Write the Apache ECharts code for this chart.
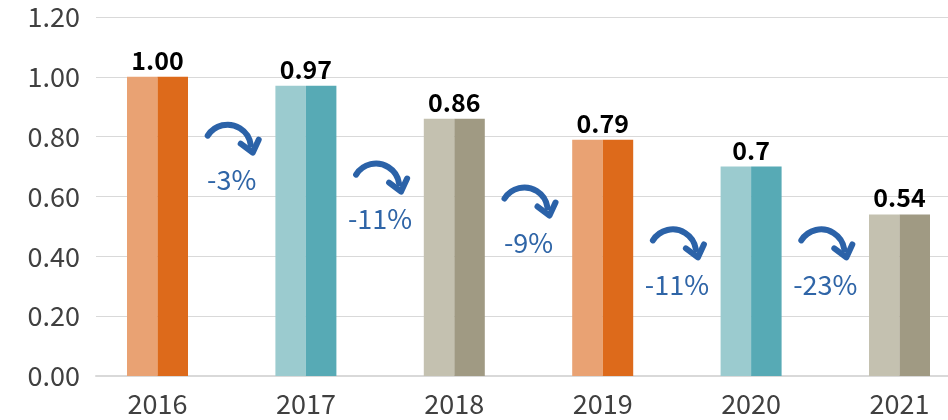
<!DOCTYPE html>
<html>
<head>
<meta charset="utf-8">
<script src="https://cdn.jsdelivr.net/npm/echarts@6/dist/echarts.min.js"></script>
<style>html,body{margin:0;padding:0;background:#fff}#c{width:948px;height:420px}</style>
</head>
<body>
<div id="c"></div>
<script>
var categories = ['2016', '2017', '2018', '2019', '2020', '2021'];
var values = [1.00, 0.97, 0.86, 0.79, 0.70, 0.54];
var valueLabels = ['1.00', '0.97', '0.86', '0.79', '0.7', '0.54'];
var changeLabels = ['-3%', '-11%', '-9%', '-11%', '-23%'];
var arrowLevels = [0.84, 0.71, 0.63, 0.49, 0.49];
var lightColors = ['#E9A273', '#9BCBCF', '#C4C1B0', '#E9A273', '#9BCBCF', '#C4C1B0'];
var darkColors = ['#DD6A1B', '#57AAB5', '#A09A83', '#DD6A1B', '#57AAB5', '#A09A83'];
var yTicks = [0, 0.2, 0.4, 0.6, 0.8, 1.0, 1.2];

var FONT = '"Noto Sans CJK SC", "Noto Sans", sans-serif';
var chart = echarts.init(document.getElementById('c'));

var lightData = values.map(function (v, i) { return { value: v, itemStyle: { color: lightColors[i] } }; });
var darkData = values.map(function (v, i) { return { value: v, itemStyle: { color: darkColors[i] } }; });
var arrowData = arrowLevels.map(function (v, i) { return [i, v, changeLabels[i]]; });

var arrowColor = '#2B62A8';

chart.setOption({
  animation: false,
  grid: [
    { left: 83.3, width: 890.4, top: 17, bottom: 44, outerBoundsMode: 'none', containLabel: false },
    { left: 96, right: 0, top: 17, bottom: 44, outerBoundsMode: 'none', containLabel: false }
  ],
  xAxis: [
    {
      type: 'category', gridIndex: 0, data: categories,
      axisLine: { show: false }, axisTick: { show: false },
      axisLabel: { color: '#404040', fontSize: 27, fontFamily: FONT, margin: 14 }
    },
    {
      type: 'value', gridIndex: 1, min: 0, max: 1,
      axisLine: { show: true, lineStyle: { color: '#D9D9D9', width: 2 } },
      axisTick: { show: false }, axisLabel: { show: false }, splitLine: { show: false }
    }
  ],
  yAxis: [
    {
      type: 'value', gridIndex: 0, min: yTicks[0], max: yTicks[yTicks.length - 1], interval: 0.2,
      show: false, splitLine: { show: false }
    },
    {
      type: 'value', gridIndex: 1, min: yTicks[0], max: yTicks[yTicks.length - 1], interval: 0.2,
      axisLine: { show: false }, axisTick: { show: false },
      axisLabel: { color: '#404040', fontSize: 27, fontFamily: FONT, margin: 16,
        formatter: function (v) { return v.toFixed(2); } },
      splitLine: { lineStyle: { color: '#D9D9D9', width: 1 } }
    }
  ],
  series: [
    {
      type: 'bar', xAxisIndex: 0, yAxisIndex: 0, data: lightData,
      barWidth: 30.5, barGap: '0%',
      label: {
        show: true, position: 'top', offset: [15.25, 0], distance: 4,
        color: '#000', fontWeight: 'bold', fontSize: 25, fontFamily: FONT,
        formatter: function (p) { return valueLabels[p.dataIndex]; }
      }
    },
    {
      type: 'bar', xAxisIndex: 0, yAxisIndex: 0, data: darkData,
      barWidth: 30.5, barGap: '0%'
    },
    {
      type: 'custom', xAxisIndex: 0, yAxisIndex: 0, data: arrowData,
      clip: false,
      renderItem: function (params, api) {
        var p = api.coord([api.value(0), api.value(1)]);
        var band = api.size([1, 0])[0];
        var cx = p[0] + band / 2;
        var top = p[1];
        var label = changeLabels[params.dataIndex];
        return {
          type: 'group',
          x: cx, y: top,
          children: [
            {
              type: 'path',
              shape: { pathData: 'M -24 11 A 23.4 23.4 0 0 1 19 20' },
              style: { fill: 'none', stroke: arrowColor, lineWidth: 6, lineCap: 'round' }
            },
            {
              type: 'polyline',
              shape: { points: [[9, 19], [21, 28], [27, 15]] },
              style: { fill: 'none', stroke: arrowColor, lineWidth: 6, lineCap: 'round', lineJoin: 'round' }
            },
            {
              type: 'text',
              style: {
                text: label, x: 0, y: 55, align: 'center', verticalAlign: 'middle',
                fill: '#2F65A7', fontSize: 27, fontFamily: FONT
              }
            }
          ]
        };
      }
    }
  ]
});
</script>
</body>
</html>
